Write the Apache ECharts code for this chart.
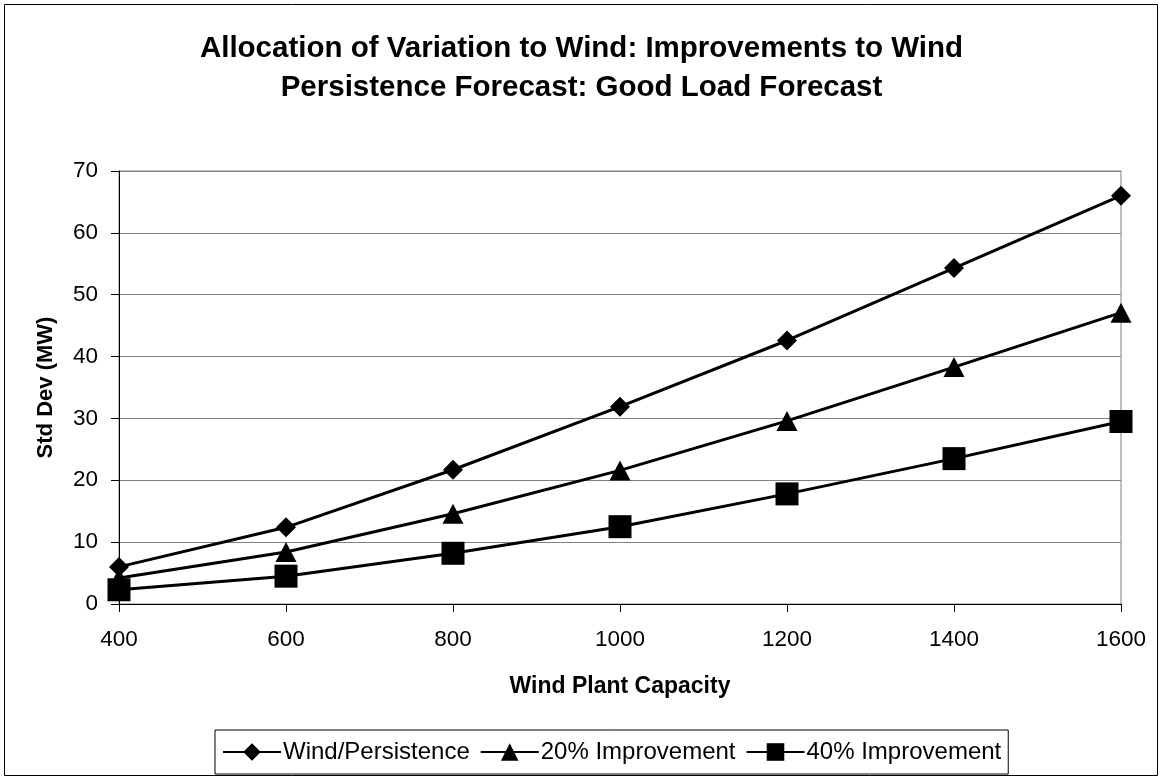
<!DOCTYPE html>
<html>
<head>
<meta charset="utf-8">
<script src="https://cdn.jsdelivr.net/npm/echarts@6/dist/echarts.min.js"></script>
<style>html,body{margin:0;padding:0;background:#fff;}#c{width:1163px;height:781px;}</style>
</head>
<body>
<div id="c"></div>
<script>
const capacities = [400, 600, 800, 1000, 1200, 1400, 1600];
const windPersistence = [6.0, 12.4, 21.7, 31.9, 42.6, 54.3, 66.0];
const improve20 = [4.2, 8.4, 14.6, 21.6, 29.6, 38.3, 47.1];
const improve40 = [2.3, 4.5, 8.2, 12.5, 17.8, 23.5, 29.5];
const seriesNames = ['Wind/Persistence', '20% Improvement', '40% Improvement'];
const titleLines = ['Allocation of Variation to Wind: Improvements to Wind', 'Persistence Forecast: Good Load Forecast'];

const font = 'Liberation Sans, Arial, sans-serif';
function pts(vals){ return capacities.map((c,i)=>[c, vals[i]]); }

const chart = echarts.init(document.getElementById('c'), null, {renderer:'canvas'});
chart.setOption({
  backgroundColor: '#fff',
  animation: false,
  title: {
    text: titleLines.join('\n'),
    left: 'center', top: 29, padding: 0,
    textStyle: {fontFamily: font, fontSize: 29.5, fontWeight: 'bold', color: '#000', lineHeight: 39}
  },
  graphic: [{
    type: 'rect', shape: {x: 4.5, y: 4.5, width: 1153, height: 771},
    style: {fill: 'none', stroke: '#000', lineWidth: 1}, silent: true, z: -1
  }],
  grid: {left: 119, right: 42, top: 171, bottom: 177, show: true, borderColor: '#808080', borderWidth: 1},
  legend: {
    top: 730, left: 215,
    data: seriesNames,
    itemWidth: 58, itemHeight: 22, itemGap: 10,
    padding: [10, 7, 10, 7],
    borderColor: '#000', borderWidth: 1,
    textStyle: {fontFamily: font, fontSize: 24, color: '#000', padding: [0,0,0,-3]}
  },
  xAxis: {
    type: 'value', min: 400, max: 1600, interval: 200,
    name: 'Wind Plant Capacity', nameLocation: 'middle', nameGap: 71,
    nameTextStyle: {fontFamily: font, fontSize: 23, fontWeight: 'bold', color: '#000'},
    axisLine: {onZero: false, lineStyle: {color: '#000', width: 1}},
    axisTick: {show: true, length: 8, lineStyle: {color: '#000'}},
    axisLabel: {fontFamily: font, fontSize: 22.5, color: '#000', margin: 24, formatter: v => String(v)},
    splitLine: {show: false}
  },
  yAxis: {
    type: 'value', min: 0, max: 70, interval: 10,
    name: 'Std Dev (MW)', nameLocation: 'middle', nameGap: 62, nameRotate: 90,
    nameTextStyle: {fontFamily: font, fontSize: 22, fontWeight: 'bold', color: '#000'},
    axisLine: {show: true, lineStyle: {color: '#000', width: 1}},
    axisTick: {show: true, length: 8, lineStyle: {color: '#000'}},
    axisLabel: {fontFamily: font, fontSize: 22.5, color: '#000', margin: 21},
    splitLine: {show: true, lineStyle: {color: '#808080', width: 1}}
  },
  series: [
    {name: seriesNames[0], type: 'line', data: pts(windPersistence), symbol: 'diamond', symbolSize: 20,
     lineStyle: {color: '#000', width: 3}, itemStyle: {color: '#000'}},
    {name: seriesNames[1], type: 'line', data: pts(improve20), symbol: 'triangle', symbolSize: [21, 20],
     lineStyle: {color: '#000', width: 3}, itemStyle: {color: '#000'}},
    {name: seriesNames[2], type: 'line', data: pts(improve40), symbol: 'rect', symbolSize: 23,
     lineStyle: {color: '#000', width: 3}, itemStyle: {color: '#000'}}
  ]
});
</script>
</body>
</html>
